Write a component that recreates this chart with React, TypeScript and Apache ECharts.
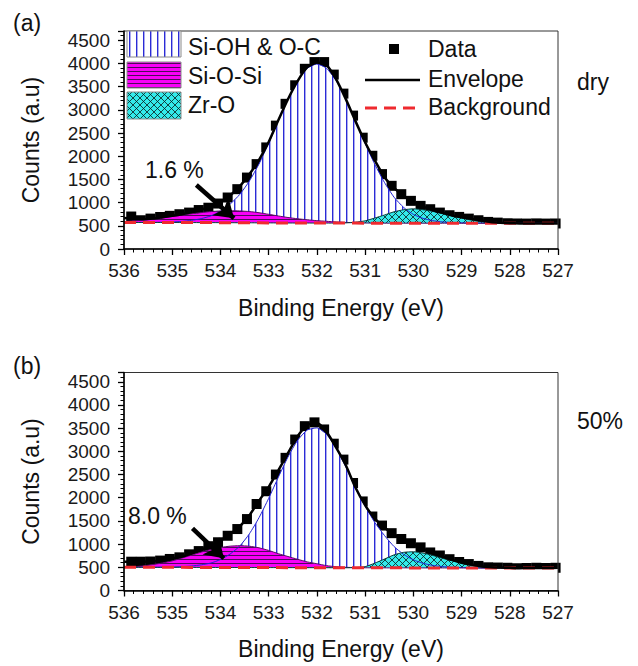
import React, { useEffect, useRef } from 'react';
import * as echarts from 'echarts';

const FONT = '"Liberation Sans", Arial, Helvetica, sans-serif';

// Binding-energy grid of the fitted curves (eV)
const E_FIT = [536.0, 535.8, 535.6, 535.4, 535.2, 535.0, 534.8, 534.6, 534.4, 534.2, 534.0, 533.8, 533.6, 533.4, 533.2, 533.0, 532.8, 532.6, 532.4, 532.2, 532.0, 531.8, 531.6, 531.4, 531.2, 531.0, 530.8, 530.6, 530.4, 530.2, 530.0, 529.8, 529.6, 529.4, 529.2, 529.0, 528.8, 528.6, 528.4, 528.2, 528.0, 527.8, 527.6, 527.4, 527.2, 527.0];
// Binding-energy grid of the measured points (eV)
const E_DATA = [535.85, 535.65, 535.45, 535.25, 535.05, 534.85, 534.65, 534.45, 534.25, 534.05, 533.85, 533.65, 533.45, 533.25, 533.05, 532.85, 532.65, 532.45, 532.25, 532.05, 531.85, 531.65, 531.45, 531.25, 531.05, 530.85, 530.65, 530.45, 530.25, 530.05, 529.85, 529.65, 529.45, 529.25, 529.05, 528.85, 528.65, 528.45, 528.25, 528.05, 527.85, 527.65, 527.45, 527.25, 527.05];

// ---- panel (a) : dry ----
const BG_A = [572, 572, 572, 571, 571, 571, 570, 570, 569, 569, 568, 567, 566, 565, 564, 563, 562, 561, 560, 560, 559, 559, 558, 558, 558, 557, 557, 557, 557, 556, 556, 556, 556, 556, 556, 556, 556, 556, 556, 556, 556, 556, 556, 556, 556, 556];
const SIOH_A = [0, 0, 1, 3, 6, 12, 25, 48, 85, 145, 245, 400, 610, 900, 1270, 1717, 2200, 2675, 3070, 3335, 3430, 3335, 3070, 2675, 2200, 1717, 1270, 880, 560, 340, 190, 105, 55, 28, 14, 6, 3, 1, 0, 0, 0, 0, 0, 0, 0, 0];
const SIOSI_A = [20, 35, 50, 75, 100, 130, 160, 190, 215, 238, 252, 258, 255, 242, 218, 185, 150, 118, 92, 70, 52, 38, 25, 15, 8, 4, 2, 0, 0, 0, 0, 0, 0, 0, 0, 0, 0, 0, 0, 0, 0, 0, 0, 0, 0, 0];
const ZRO_A = [0, 0, 0, 0, 0, 0, 0, 0, 0, 0, 0, 0, 0, 0, 0, 0, 0, 0, 0, 0, 0, 0, 0, 5, 20, 50, 110, 175, 245, 290, 310, 290, 255, 210, 160, 110, 68, 35, 12, 3, 0, 0, 0, 0, 0, 0];
const ENV_A = [670, 650, 640, 655, 685, 715, 750, 795, 850, 910, 1005, 1155, 1352, 1612, 1920, 2307, 2777, 3230, 3620, 3920, 4020, 3962, 3657, 3231, 2757, 2302, 1911, 1552, 1317, 1146, 1011, 912, 842, 780, 724, 686, 650, 614, 582, 566, 556, 551, 549, 550, 549, 550];
const DATA_A = [700, 620, 655, 690, 715, 750, 785, 840, 890, 980, 1110, 1290, 1540, 1830, 2190, 2660, 3130, 3530, 3885, 4030, 4030, 3760, 3350, 2876, 2400, 2010, 1615, 1362, 1182, 1038, 930, 858, 785, 728, 692, 655, 620, 584, 569, 555, 550, 548, 552, 548, 550];

// ---- panel (b) : 50% ----
const BG_B = [500, 500, 500, 500, 499, 499, 499, 498, 498, 497, 497, 496, 496, 495, 495, 494, 494, 493, 493, 492, 492, 491, 491, 490, 490, 489, 489, 488, 488, 488, 487, 487, 487, 486, 486, 486, 486, 485, 485, 485, 485, 485, 485, 485, 485, 485];
const SIOH_B = [0, 0, 0, 1, 3, 6, 15, 30, 55, 95, 170, 290, 462, 727, 1075, 1492, 1947, 2385, 2744, 2967, 3014, 2876, 2578, 2171, 1717, 1330, 980, 700, 460, 290, 175, 100, 55, 30, 15, 8, 3, 0, 0, 0, 0, 0, 0, 0, 0, 0];
const SIOSI_B = [5, 12, 30, 60, 95, 140, 200, 265, 330, 385, 430, 460, 470, 460, 425, 370, 300, 240, 180, 125, 85, 45, 22, 10, 4, 1, 0, 0, 0, 0, 0, 0, 0, 0, 0, 0, 0, 0, 0, 0, 0, 0, 0, 0, 0, 0];
const ZRO_B = [0, 0, 0, 0, 0, 0, 0, 0, 0, 0, 0, 0, 0, 0, 0, 0, 0, 0, 0, 0, 0, 0, 0, 0, 5, 25, 100, 190, 280, 335, 348, 320, 270, 210, 155, 100, 50, 22, 8, 2, 0, 0, 0, 0, 0, 0];
const ENV_B = [621, 621, 622, 630, 655, 690, 730, 800, 875, 975, 1075, 1215, 1380, 1620, 1935, 2230, 2590, 2960, 3325, 3570, 3610, 3420, 3080, 2700, 2220, 1840, 1550, 1360, 1205, 1087, 997, 900, 805, 735, 660, 600, 560, 522, 499, 494, 488, 482, 485, 488, 486, 488];
const DATA_B = [621, 621, 625, 645, 680, 715, 780, 850, 955, 1040, 1180, 1325, 1540, 1865, 2140, 2500, 2860, 3255, 3543, 3625, 3472, 3165, 2822, 2318, 1920, 1595, 1400, 1236, 1110, 1019, 930, 820, 755, 675, 615, 570, 530, 500, 495, 490, 480, 485, 490, 485, 490];

// annotations
const X_TICKS = { min: 527, max: 536, interval: 1 };
const Y_TICKS = { min: 0, max: 4700, interval: 500 };
const ARROW_A = [[534.5, 1380], [533.72, 662]];
const ARROW_B = [[534.58, 1340], [533.93, 694]];
const LABEL_A = '1.6 %';
const LABEL_B = '8.0 %';
const COND_A = 'dry';
const COND_B = '50%';
const COMPONENTS = ['Si-OH & O-C', 'Si-O-Si', 'Zr-O'];
const LEGEND_R = ['Data', 'Envelope', 'Background'];

function makePattern(w: number, h: number, draw: (ctx: CanvasRenderingContext2D) => void) {
  const c = document.createElement('canvas');
  c.width = w;
  c.height = h;
  const ctx = c.getContext('2d') as CanvasRenderingContext2D;
  draw(ctx);
  return { image: c.toDataURL(), repeat: 'repeat', imageWidth: w, imageHeight: h };
}

export default function App() {
  const ref = useRef<HTMLDivElement>(null);
  useEffect(() => {
    const patSioh = makePattern(7, 7, (ctx) => {
      ctx.fillStyle = '#ffffff';
      ctx.fillRect(0, 0, 7, 7);
      ctx.fillStyle = '#2b2bd6';
      ctx.fillRect(3, 0, 1, 7);
      ctx.fillStyle = 'rgba(43,43,214,0.4)';
      ctx.fillRect(4, 0, 1, 7);
    });
    const patSiosi = makePattern(4, 4, (ctx) => {
      ctx.fillStyle = '#f800f8';
      ctx.fillRect(0, 0, 4, 4);
      ctx.fillStyle = '#4d0a5a';
      ctx.fillRect(0, 3, 4, 1);
    });
    const patZro = makePattern(7, 7, (ctx) => {
      ctx.fillStyle = '#33eaea';
      ctx.fillRect(0, 0, 7, 7);
      ctx.strokeStyle = '#0a1a1a';
      ctx.lineWidth = 0.8;
      for (let k = -1; k <= 1; k++) {
        ctx.beginPath();
        ctx.moveTo(-1, -1 + k * 7);
        ctx.lineTo(8, 8 + k * 7);
        ctx.stroke();
      }
      for (let k = 0; k <= 2; k++) {
        ctx.beginPath();
        ctx.moveTo(-1, k * 7 + 1);
        ctx.lineTo(8, k * 7 - 8);
        ctx.stroke();
      }
    });

    const panel = (idx: number, bg: number[], sioh: number[], siosi: number[], zro: number[], env: number[], data: number[], arrow: number[][]) => {
      const abs = (h: number[]) => E_FIT.map((e, i) => [e, bg[i] + h[i]]);
      const pts = (v: number[]) => E_FIT.map((e, i) => [e, v[i]]);
      const common = { xAxisIndex: idx, yAxisIndex: idx, silent: true, symbol: 'none', showSymbol: false, emphasis: { disabled: true } };
      return [
        { ...common, type: 'line', name: COMPONENTS[0], data: abs(sioh), smooth: 0.2, lineStyle: { color: '#2323d0', width: 1 }, areaStyle: { color: patSioh, opacity: 1, origin: 'start' } },
        { ...common, type: 'line', name: COMPONENTS[1], data: abs(siosi), smooth: 0.2, lineStyle: { color: '#5a0a66', width: 1 }, areaStyle: { color: patSiosi, opacity: 1, origin: 'start' } },
        { ...common, type: 'line', name: COMPONENTS[2], data: abs(zro), smooth: 0.2, lineStyle: { color: '#0b3c3c', width: 1 }, areaStyle: { color: patZro, opacity: 1, origin: 'start' } },
        { ...common, type: 'line', name: 'cover', data: pts(bg), lineStyle: { width: 0, opacity: 0 }, areaStyle: { color: '#ffffff', opacity: 1, origin: 'start' } },
        { ...common, type: 'line', name: LEGEND_R[2], data: pts(bg), lineStyle: { color: '#ef2a2f', width: 3, type: [12, 7] } },
        { ...common, type: 'line', name: LEGEND_R[1], data: pts(env), smooth: 0.2, lineStyle: { color: '#000000', width: 2.5 } },
        {
          ...common,
          type: 'scatter',
          name: LEGEND_R[0],
          data: E_DATA.map((e, i) => [e, data[i]]),
          symbol: 'rect',
          symbolSize: 10,
          itemStyle: { color: '#000000', opacity: 1 },
          markLine: {
            silent: true,
            symbol: ['none', 'arrow'],
            symbolSize: 18,
            label: { show: false },
            emphasis: { disabled: true },
            lineStyle: { color: '#000000', width: 4.5, type: 'solid', opacity: 1 },
            data: [[{ coord: arrow[0] }, { coord: arrow[1] }]],
          },
        },
      ];
    };

    const xAxis = (idx: number) => ({
      gridIndex: idx,
      type: 'value',
      min: X_TICKS.min,
      max: X_TICKS.max,
      interval: X_TICKS.interval,
      inverse: true,
      z: 6,
      axisLine: { show: true, lineStyle: { color: '#000', width: 1.5 } },
      axisTick: { show: true, length: 6, lineStyle: { color: '#000', width: 1.3 } },
      minorTick: { show: true, splitNumber: 5, length: 3.5, lineStyle: { color: '#000', width: 1 } },
      splitLine: { show: false },
      axisLabel: { fontSize: 19, color: '#1a1a1a', margin: 12, fontFamily: FONT },
      name: 'Binding Energy (eV)',
      nameLocation: 'middle',
      nameGap: 47,
      nameTextStyle: { fontSize: 23, color: '#111', fontFamily: FONT },
    });
    const yAxis = (idx: number) => ({
      gridIndex: idx,
      type: 'value',
      min: Y_TICKS.min,
      max: Y_TICKS.max,
      interval: Y_TICKS.interval,
      z: 6,
      axisLine: { show: true, lineStyle: { color: '#000', width: 1.5 } },
      axisTick: { show: true, length: 6, lineStyle: { color: '#000', width: 1.3 } },
      minorTick: { show: true, splitNumber: 5, length: 3.5, lineStyle: { color: '#000', width: 1 } },
      splitLine: { show: false },
      axisLabel: { fontSize: 19, color: '#1a1a1a', margin: 14, fontFamily: FONT, showMaxLabel: false, formatter: (v: number) => String(v) },
      name: 'Counts (a.u)',
      nameLocation: 'middle',
      nameGap: 82,
      nameTextStyle: { fontSize: 23, color: '#111', fontFamily: FONT },
    });

    const txt = (text: string, x: number, y: number, size = 23, align = 'left') => ({
      type: 'text',
      z: 20,
      style: { text, x, y, fill: '#111', font: `${size}px ${FONT}`, textAlign: align, textVerticalAlign: 'middle', align, verticalAlign: 'middle' },
    });

    const option: any = {
      animation: false,
      backgroundColor: '#ffffff',
      grid: [
        { left: 124, top: 31, width: 434, height: 218, show: true, borderColor: '#333', borderWidth: 1, backgroundColor: 'transparent', z: 6 },
        { left: 124, top: 372.5, width: 434, height: 218, show: true, borderColor: '#333', borderWidth: 1, backgroundColor: 'transparent', z: 6 },
      ],
      xAxis: [xAxis(0), xAxis(1)],
      yAxis: [yAxis(0), yAxis(1)],
      series: [
        ...panel(0, BG_A, SIOH_A, SIOSI_A, ZRO_A, ENV_A, DATA_A, ARROW_A),
        ...panel(1, BG_B, SIOH_B, SIOSI_B, ZRO_B, ENV_B, DATA_B, ARROW_B),
      ],
      graphic: [
        txt('(a)', 13, 23),
        txt('(b)', 13, 366),
        txt(COND_A, 577, 82),
        txt(COND_B, 577, 421),
        txt(LABEL_A, 145, 170),
        txt(LABEL_B, 128, 516),
        { type: 'rect', z: 20, shape: { x: 127, y: 31, width: 54, height: 26 }, style: { fill: patSioh, stroke: '#8a8a8a', lineWidth: 1 } },
        { type: 'rect', z: 20, shape: { x: 127, y: 62, width: 54, height: 26 }, style: { fill: patSiosi, stroke: '#8a8a8a', lineWidth: 1 } },
        { type: 'rect', z: 20, shape: { x: 127, y: 92, width: 54, height: 27 }, style: { fill: patZro, stroke: '#8a8a8a', lineWidth: 1 } },
        txt(COMPONENTS[0], 188, 47),
        txt(COMPONENTS[1], 188, 76),
        txt(COMPONENTS[2], 188, 105),
        { type: 'rect', z: 20, shape: { x: 389, y: 44, width: 10, height: 10 }, style: { fill: '#000' } },
        { type: 'line', z: 20, shape: { x1: 365, y1: 80, x2: 420, y2: 80 }, style: { stroke: '#000', lineWidth: 2.5 } },
        { type: 'line', z: 20, shape: { x1: 365, y1: 108, x2: 420, y2: 108 }, style: { stroke: '#ef2a2f', lineWidth: 3, lineDash: [12, 7] } },
        txt(LEGEND_R[0], 428, 49),
        txt(LEGEND_R[1], 428, 79),
        txt(LEGEND_R[2], 428, 107),
      ],
    };

    const chart = echarts.init(ref.current as HTMLDivElement, null, { renderer: 'svg', width: 638, height: 666 });
    chart.setOption(option);
    return () => chart.dispose();
  }, []);
  return <div ref={ref} style={{ position: 'absolute', left: 0, top: 0, width: 638, height: 666, background: '#fff' }} />;
}
